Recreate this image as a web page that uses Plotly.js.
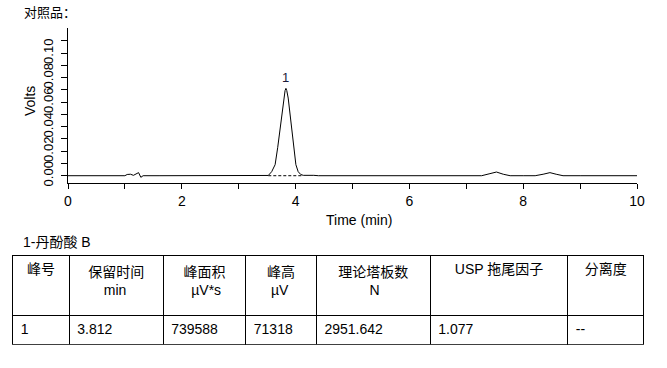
<!DOCTYPE html>
<html>
<head>
<meta charset="utf-8">
<script src="https://cdn.plot.ly/plotly-3.0.1.min.js"></script>
<style>html,body{margin:0;padding:0;background:#fff;}#chart{width:667px;height:368px;}</style>
</head>
<body>
<div id="chart"></div>
<script>
// Chromatogram trace (time in min, signal in Volts)
var times = [0, 0.5, 1.0, 1.04, 1.10, 1.15, 1.20, 1.24, 1.28, 1.32, 1.6, 2.5, 3.0, 3.4, 3.52, 3.58, 3.64, 3.685, 3.72, 3.755, 3.80, 3.815, 3.83, 3.845, 3.87, 3.905, 3.94, 3.97, 4.005, 4.045, 4.09, 4.135, 4.2, 4.26, 4.32, 4.4, 5, 6, 7, 7.27, 7.4, 7.53, 7.65, 7.77, 8.0, 8.21, 8.35, 8.47, 8.58, 8.70, 9, 10];
var volts = [0, 0, 0, 0.0010, 0.0012, 0.0003, 0.0012, 0.0025, -0.0013, 0, 0, 0, 0, 0, 0.0002, 0.0033, 0.0090, 0.0229, 0.0362, 0.0498, 0.0634, 0.0695, 0.0713, 0.0695, 0.0634, 0.0498, 0.0362, 0.0229, 0.0090, 0.0033, 0.0010, 0.0003, 0.0004, 0.0005, 0.0003, 0, 0, 0, 0, 0, 0.0015, 0.0030, 0.0012, 0, 0, 0, 0.0012, 0.0025, 0.0012, 0, 0, 0];
// Peak baseline (dashed)
var baseTimes = [3.52, 4.135];
var baseVolts = [0, 0];
// Peak label
var peakLabels = ['1'];
var peakTimes = [3.83];
var peakHeights = [0.0713];
// Axis ticks
var xTickVals = [0, 2, 4, 6, 8, 10];
var xMinorVals = [1, 3, 5, 7, 9];
var yTickVals = [0, 0.02, 0.04, 0.06, 0.08, 0.10];
var yMinorVals = [0.01, 0.03, 0.05, 0.07, 0.09, 0.11];

// Result table
var headers = ['峰号', '保留时间<br>min', '峰面积<br>µV*s', '峰高<br>µV', '理论塔板数<br>N', 'USP 拖尾因子', '分离度'];
var peakNo = ['1'];
var retention = ['3.812'];
var area = ['739588'];
var height = ['71318'];
var plates = ['2951.642'];
var tailing = ['1.077'];
var resolution = ['--'];

var FONT = 'Liberation Sans, Arial, Noto Sans CJK SC, sans-serif';
var W = 667, H = 368;

// Plotly tables left-align the lines of a multi-line cell inside its block;
// pad shorter lines with no-break spaces so each line sits centred.
function centreLines(txt, size) {
  var parts = txt.split('<br>');
  if (parts.length < 2) return txt;
  var ctx = document.createElement('canvas').getContext('2d');
  ctx.font = size + 'px "Liberation Sans", "Noto Sans CJK SC", sans-serif';
  var widths = parts.map(function (p) { return ctx.measureText(p).width; });
  var maxW = Math.max.apply(null, widths);
  var sp = ctx.measureText('\u00a0').width;
  return parts.map(function (p, k) {
    var n = Math.round((maxW - widths[k]) / 2 / sp);
    return new Array(n + 1).join('\u00a0') + p;
  }).join('<br>');
}
var headerText = headers.map(function (h) { return centreLines(h, 14); });

var traces = [
  {type: 'scatter', mode: 'lines', x: times, y: volts, line: {color: '#000', width: 1}, hoverinfo: 'skip'},
  {type: 'scatter', mode: 'lines', x: baseTimes, y: baseVolts, line: {color: '#000', width: 1, dash: '3px,2px'}, hoverinfo: 'skip'},
  {type: 'table',
   domain: {x: [12.7 / W, 644.3 / W], y: [1 - 345 / H, 1 - 255.7 / H]},
   columnwidth: [56.6, 94, 82.7, 70.7, 114, 137.6, 76],
   header: {values: headerText, align: 'center', height: 60,
            line: {color: '#000', width: 1}, fill: {color: '#fff'},
            font: {family: FONT, size: 14, color: '#000'}},
   cells: {values: [peakNo, retention, area, height, plates, tailing, resolution], align: 'left', height: 29,
           line: {color: '#000', width: 1}, fill: {color: '#fff'},
           font: {family: FONT, size: 14, color: '#000'}}
  }
];

var annotations = [
  {xref: 'paper', yref: 'paper', x: 22 / W, y: 1 - 13 / H, xanchor: 'left', yanchor: 'middle', showarrow: false,
   text: '对照品：', font: {family: FONT, size: 13, color: '#000'}},
  {xref: 'paper', yref: 'paper', x: 21 / W, y: 1 - 242.5 / H, xanchor: 'left', yanchor: 'middle', showarrow: false,
   text: '1-丹酚酸 B', font: {family: FONT, size: 14, color: '#000'}},
  {xref: 'paper', yref: 'paper', x: 358.7 / W, y: 1 - 220 / H, xanchor: 'center', yanchor: 'middle', showarrow: false,
   text: 'Time (min)', font: {family: FONT, size: 14, color: '#000'}},
  {xref: 'paper', yref: 'paper', x: 30 / W, y: 1 - 101 / H, xanchor: 'center', yanchor: 'middle', showarrow: false,
   textangle: -90, text: 'Volts', font: {family: FONT, size: 14, color: '#000'}}
];
for (var i = 0; i < peakLabels.length; i++) {
  annotations.push({xref: 'x', yref: 'y', x: peakTimes[i], y: peakHeights[i], xanchor: 'center', yanchor: 'bottom',
    yshift: 1, showarrow: false, text: peakLabels[i], font: {family: FONT, size: 13, color: '#1a1a3a'}});
}

var layout = {
  width: W, height: H,
  margin: {l: 0, r: 0, t: 0, b: 0, pad: 0},
  paper_bgcolor: '#fff', plot_bgcolor: '#fff',
  showlegend: false,
  font: {family: FONT, color: '#000'},
  xaxis: {domain: [68 / W, 637 / W], range: [0, 10], anchor: 'y',
          showline: true, linecolor: '#000', linewidth: 1, mirror: false,
          ticks: 'outside', ticklen: 5, tickcolor: '#000', tickwidth: 1,
          tickmode: 'array', tickvals: xTickVals,
          minor: {tickmode: 'array', tickvals: xMinorVals, ticks: 'outside', ticklen: 5, tickcolor: '#000', tickwidth: 1, showgrid: false},
          showgrid: false, zeroline: false, tickfont: {family: FONT, size: 14, color: '#000'}},
  yaxis: {domain: [1 - 183.3 / H, 1 - 28 / H], range: [-0.0062, 0.1206], anchor: 'x',
          showline: true, linecolor: '#000', linewidth: 1,
          ticks: 'outside', ticklen: 6, tickcolor: '#000', tickwidth: 1,
          tickmode: 'array', tickvals: yTickVals, tickformat: '.2f', tickangle: -90,
          minor: {tickmode: 'array', tickvals: yMinorVals, ticks: 'outside', ticklen: 6, tickcolor: '#000', tickwidth: 1, showgrid: false},
          showgrid: false, zeroline: false, ticklabelstandoff: 3,
          tickfont: {family: FONT, size: 13, color: '#000'}},
  annotations: annotations
};

Plotly.newPlot('chart', traces, layout, {staticPlot: true, displayModeBar: false});
</script>
</body>
</html>
